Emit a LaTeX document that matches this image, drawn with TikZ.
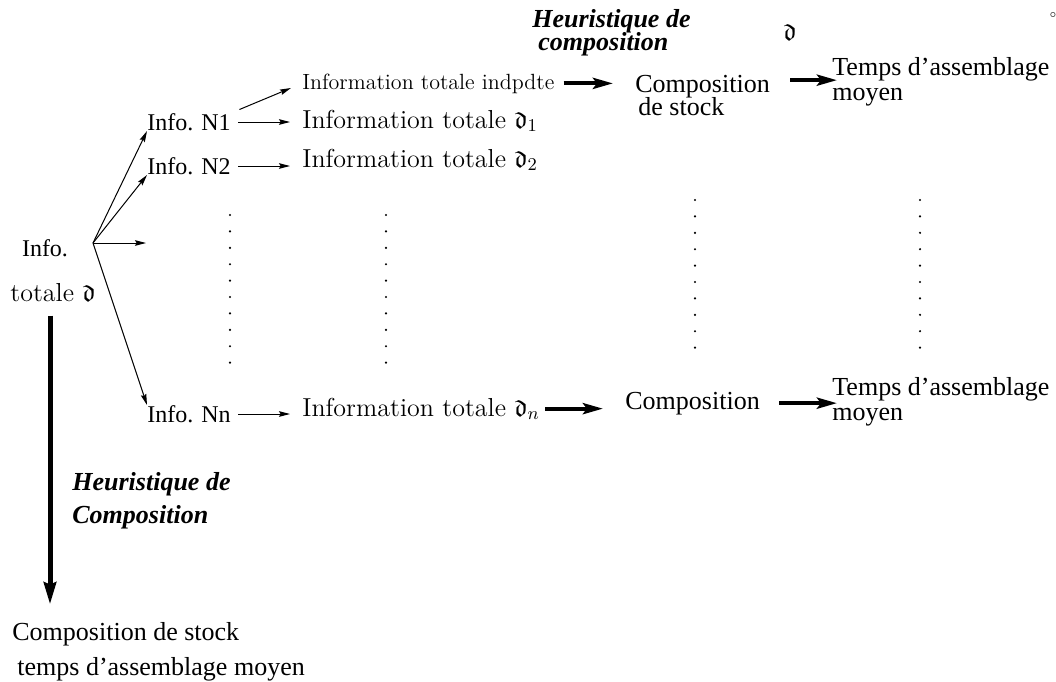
\documentclass[tikz,border=0pt]{standalone}
\usepackage{amssymb}
\usepackage{fontspec}
\newfontfamily\timesf{Liberation Serif}
\usetikzlibrary{arrows.meta, calc}

\begin{document}
\begin{tikzpicture}[
        x=0.5pt, y=-0.5pt,
        txt/.style={inner sep=0pt, font=\timesf\fontsize{13}{15}\selectfont},
        info/.style={inner sep=0pt, font=\timesf\fontsize{12}{14}\selectfont},
        cmtxt/.style={inner sep=0pt, font=\fontsize{13}{15}\selectfont},
        heur/.style={inner sep=0pt, font=\timesf\bfseries\itshape\fontsize{13}{15}\selectfont},
        link/.style={line width=0.5pt, -{Stealth[length=5.5pt,width=2.8pt,inset=0.8pt]}},
        biglink/.style={line width=2pt, -{Stealth[length=10pt,width=5.5pt,inset=2pt]}},
        vlink/.style={line width=2.5pt, -{Stealth[length=11pt,width=6pt,inset=1pt]}}
    ]
    \useasboundingbox (0,0) rectangle (1056,681);

    % Source
    \node[info] (info) at (45,248) {Info.};
    \node[cmtxt] (tot) at (53,293) {totale $\mathfrak{d}$};
    \coordinate (src) at (93,243);
    \coordinate (gap) at (146,243);

    % Levels
    \node[info, anchor=west] (n1) at (147,122) {Info. N1};
    \node[info, anchor=west] (n2) at (147,166) {Info. N2};
    \node[info, anchor=west] (nn) at (147,414) {Info. Nn};

    % Total information
    \node[cmtxt, font=\fontsize{11}{13}\selectfont, anchor=base west] (i0) at (302,89) {Information totale indpdte};
    \node[cmtxt, anchor=base west] (i1) at (302,128) {Information totale $\mathfrak{d}_1$};
    \node[cmtxt, anchor=base west] (i2) at (302,167) {Information totale $\mathfrak{d}_2$};
    \node[cmtxt, anchor=base west] (inn) at (302,416) {Information totale $\mathfrak{d}_n$};

    % Composition
    \node[heur, anchor=base west] (h1) at (532,27) {Heuristique de};
    \node[heur, anchor=base west] (h1b) at (538,50) {composition};
    \node[cmtxt] (d0) at (790,32) {$\mathfrak{d}$};
    \node[cmtxt, font=\tiny] (deg) at (1053,15) {$\circ$};
    \node[txt, anchor=base west] (c1) at (635,92) {Composition};
    \node[txt, anchor=base west] (c1b) at (638,115) {de stock};
    \node[txt, anchor=base west] (cn) at (625,409) {Composition};

    % Assembly time
    \node[txt, anchor=base west] (t1) at (832,75) {Temps d’assemblage};
    \node[txt, anchor=base west] (t1b) at (832,100) {moyen};
    \node[txt, anchor=base west] (tn) at (832,395) {Temps d’assemblage};
    \node[txt, anchor=base west] (tnb) at (832,420) {moyen};

    % Global heuristic
    \node[heur, anchor=base west] (h2) at (72,490) {Heuristique de};
    \node[heur, anchor=base west] (h2b) at (72,523) {Composition};
    \node[txt, anchor=base west] (res) at (12,640) {Composition de stock};
    \node[txt, anchor=base west] (resb) at (17,675) {temps d’assemblage moyen};

    % Arrows
    \draw[link] (src) -- (n1.south west);
    \draw[link] (src) -- (n2.south west);
    \draw[link] (src) -- (gap);
    \draw[link] (src) -- (nn.north west);
    \draw[link, shorten <=4.5pt, shorten >=6pt] (n1.north east) -- (i0.west);
    \draw[link, shorten <=3.5pt, shorten >=6pt] (n1.east) -- (n1.east -| i1.west);
    \draw[link, shorten <=3.5pt, shorten >=6pt] (n2.east) -- (n2.east -| i2.west);
    \draw[link, shorten <=3.5pt, shorten >=6pt] (nn.east) -- (nn.east -| inn.west);

    \draw[biglink, shorten <=4.5pt, shorten >=11pt] (i0.east) -- (i0.east -| c1.west);
    \draw[biglink] ($(c1.east)+(10pt,3pt)$) -- ($(c1.east -| t1.west)+(2.5pt,3pt)$);
    \draw[biglink, shorten <=2.5pt, shorten >=11pt] (inn.east) -- (inn.east -| cn.west);
    \draw[biglink, shorten <=9.5pt, shorten >=-2.5pt] (cn.east) -- (cn.east -| tn.west);
    \draw[vlink, shorten <=6.5pt, shorten >=8.5pt] ($(tot.south)+(-1.5pt,0)$) -- ($(tot.south |- res.north)+(-1.5pt,0)$);

    % Dots
    \foreach \x/\y in {230/215, 386/215, 695/200, 920/200}
        \foreach \k in {0,...,9}
            \fill (\x,{\y+16.4*\k}) circle (0.6pt);

\end{tikzpicture}
\end{document}
